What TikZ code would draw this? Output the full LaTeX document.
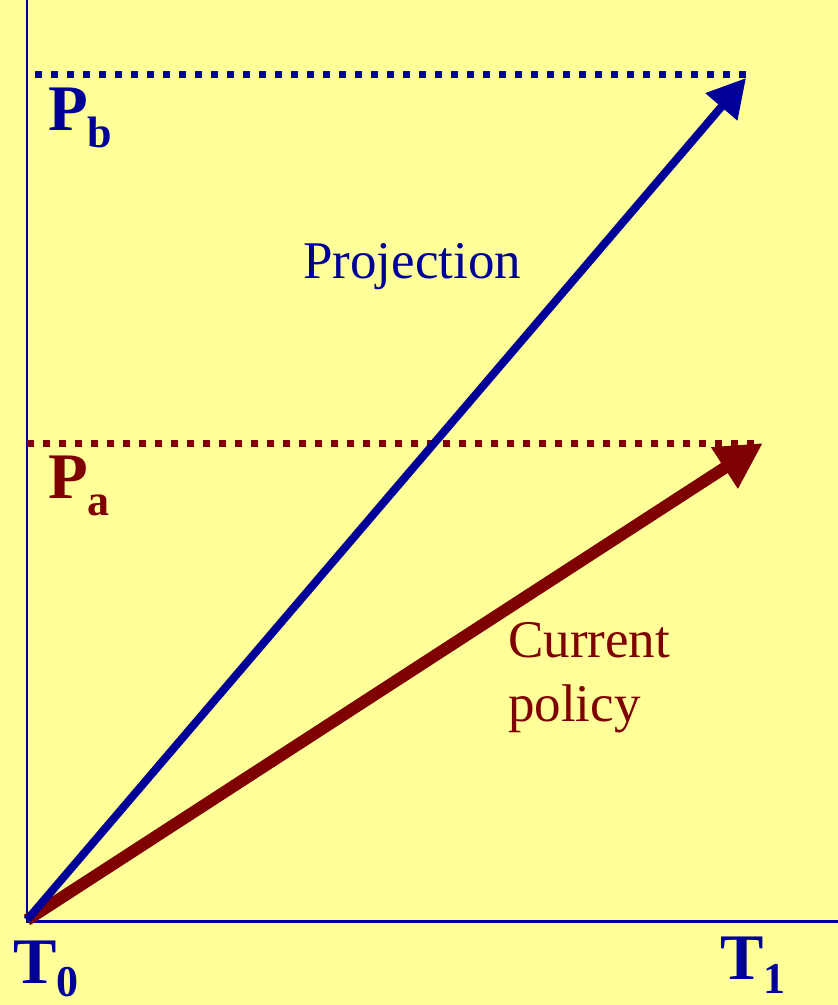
\documentclass[tikz,border=0pt]{standalone}
\usepackage{fontspec}
\setmainfont{Liberation Serif}
\usetikzlibrary{arrows.meta}

\definecolor{bgyellow}{HTML}{FFFF99}
\definecolor{axisblue}{HTML}{000099}
\definecolor{policyred}{HTML}{7F0000}

\newcommand{\bigsz}{\fontsize{65}{65}\selectfont\bfseries}
\newcommand{\subsz}{\fontsize{44}{44}\selectfont\bfseries}
\newcommand{\txtsz}{\fontsize{53}{64}\selectfont}

\begin{document}
\begin{tikzpicture}[
    x=1pt, y=-1pt,
    axis/.style={draw=axisblue, line width=2.5pt},
    level/.style={line width=7pt, dash pattern=on 7.3pt off 8.7pt},
    lbl/.style={inner sep=0pt, anchor=base west},
    txt/.style={inner sep=0pt, anchor=base west, align=left, font=\txtsz}
]

% canvas
\fill[bgyellow] (0,0) rectangle (838,1005);
\useasboundingbox (0,0) rectangle (838,1005);

% axes
\coordinate (origin) at (27,921.5);
\coordinate (ytop) at (27,0);
\coordinate (xend) at (838,921.5);
\draw[axis] (ytop) -- (origin) -- (xend);

% price levels
\coordinate (pbstart) at (35,74.5);
\coordinate (pbend) at (747,74.5);
\coordinate (pastart) at (27,443);
\coordinate (paend) at (755,443);
\draw[level, axisblue] (pbstart) -- (pbend);
\draw[level, policyred] (pastart) -- (paend);

% policy arrows
\coordinate (start) at (27,920);
\coordinate (projtip) at (746,78);
\coordinate (curtip) at (763,443);
\draw[line width=12pt, policyred, -{Triangle[length=46pt,width=46pt]}] (start) -- (curtip);
\draw[line width=8pt, axisblue, -{Triangle[length=38pt,width=40pt]}] (start) -- (projtip);

% labels
\node[lbl, text=axisblue] (pb) at (48,130) {\bigsz P\raisebox{-17pt}{\subsz b}};
\node[lbl, text=policyred] (pa) at (48,498) {\bigsz P\raisebox{-17pt}{\subsz a}};
\node[lbl, text=axisblue] (t0) at (13,983) {\bigsz T\raisebox{-13pt}{\subsz 0}};
\node[lbl, text=axisblue] (t1) at (720,979) {\bigsz T\raisebox{-14pt}{\subsz 1}};
\node[txt, text=axisblue] (proj) at (303,278) {Projection};
\node[txt, text=policyred] (cur) at (508,721) {Current\\policy};

\end{tikzpicture}
\end{document}
